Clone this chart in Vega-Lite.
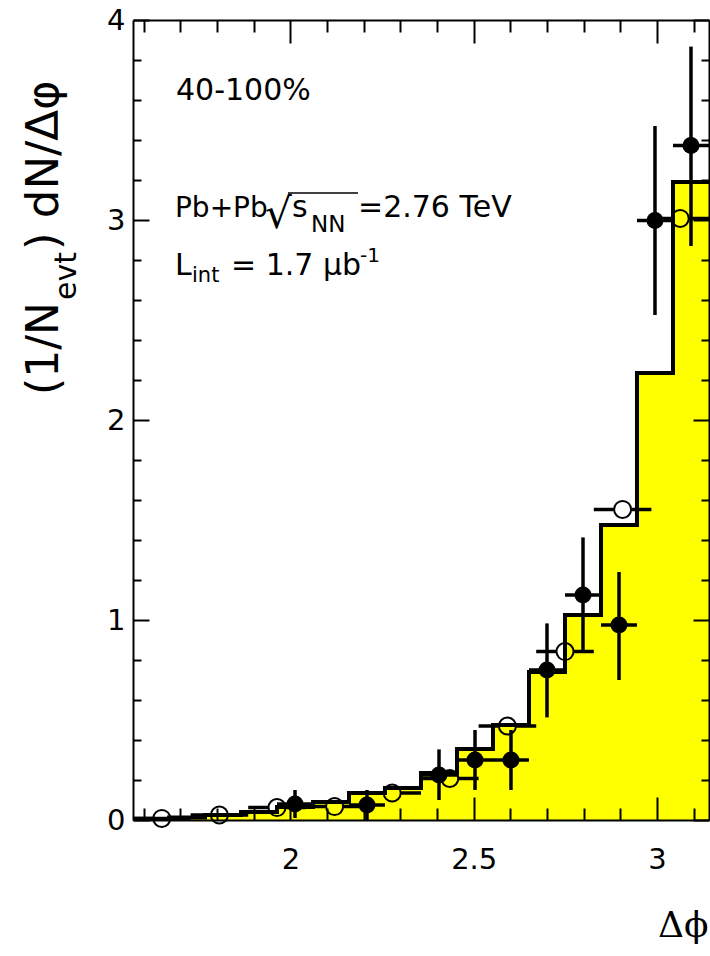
{
  "$schema": "https://vega.github.io/schema/vega-lite/v6.json",
  "width": 576,
  "height": 800,
  "autosize": {"type": "none"},
  "padding": {"left": 133, "top": 20, "right": 1, "bottom": 136},
  "background": "white",
  "config": {"view": {"stroke": null}, "font": "DejaVu Sans"},
  "datasets": {
    "bins": [
      {"lo": 1.5708, "hi": 1.6690, "n": 0.006},
      {"lo": 1.6690, "hi": 1.7671, "n": 0.012},
      {"lo": 1.7671, "hi": 1.8653, "n": 0.025},
      {"lo": 1.8653, "hi": 1.9635, "n": 0.04},
      {"lo": 1.9635, "hi": 2.0617, "n": 0.065},
      {"lo": 2.0617, "hi": 2.1598, "n": 0.09},
      {"lo": 2.1598, "hi": 2.2580, "n": 0.135},
      {"lo": 2.2580, "hi": 2.3562, "n": 0.16},
      {"lo": 2.3562, "hi": 2.4544, "n": 0.235},
      {"lo": 2.4544, "hi": 2.5525, "n": 0.355},
      {"lo": 2.5525, "hi": 2.6507, "n": 0.475},
      {"lo": 2.6507, "hi": 2.7489, "n": 0.74},
      {"lo": 2.7489, "hi": 2.8471, "n": 1.025},
      {"lo": 2.8471, "hi": 2.9452, "n": 1.475},
      {"lo": 2.9452, "hi": 3.0434, "n": 2.235},
      {"lo": 3.0434, "hi": 3.1416, "n": 3.19}
    ],
    "filled": [
      {"x": 2.0126, "lo": 1.9635, "hi": 2.0617, "y": 0.08, "ylo": 0.01, "yhi": 0.15},
      {"x": 2.2089, "lo": 2.1598, "hi": 2.2580, "y": 0.075, "ylo": 0.0, "yhi": 0.15},
      {"x": 2.4053, "lo": 2.3562, "hi": 2.4544, "y": 0.225, "ylo": 0.10, "yhi": 0.353},
      {"x": 2.5035, "lo": 2.4544, "hi": 2.5525, "y": 0.30, "ylo": 0.15, "yhi": 0.45},
      {"x": 2.6016, "lo": 2.5525, "hi": 2.6507, "y": 0.30, "ylo": 0.15, "yhi": 0.45},
      {"x": 2.6998, "lo": 2.6507, "hi": 2.7489, "y": 0.75, "ylo": 0.513, "yhi": 0.983},
      {"x": 2.7980, "lo": 2.7489, "hi": 2.8471, "y": 1.125, "ylo": 0.842, "yhi": 1.413},
      {"x": 2.8962, "lo": 2.8471, "hi": 2.9452, "y": 0.975, "ylo": 0.70, "yhi": 1.24},
      {"x": 2.9943, "lo": 2.9452, "hi": 3.0434, "y": 2.997, "ylo": 2.525, "yhi": 3.47},
      {"x": 3.0925, "lo": 3.0434, "hi": 3.1416, "y": 3.372, "ylo": 2.87, "yhi": 3.867}
    ],
    "open": [
      {"x": 1.6493, "lo": 1.5708, "hi": 1.7279, "y": 0.008},
      {"x": 1.8064, "lo": 1.7279, "hi": 1.8850, "y": 0.025},
      {"x": 1.9635, "lo": 1.8850, "hi": 2.0420, "y": 0.062},
      {"x": 2.1206, "lo": 2.0420, "hi": 2.1991, "y": 0.067},
      {"x": 2.2777, "lo": 2.1991, "hi": 2.3562, "y": 0.135},
      {"x": 2.4347, "lo": 2.3562, "hi": 2.5133, "y": 0.208},
      {"x": 2.5918, "lo": 2.5133, "hi": 2.6704, "y": 0.47},
      {"x": 2.7489, "lo": 2.6704, "hi": 2.8274, "y": 0.842},
      {"x": 2.9060, "lo": 2.8274, "hi": 2.9845, "y": 1.553},
      {"x": 3.0631, "lo": 2.9845, "hi": 3.1416, "y": 3.008}
    ]
  },
  "resolve": {"axis": {"x": "independent", "y": "independent"}},
  "layer": [
    {
      "data": {"name": "bins"},
      "mark": {"type": "rect", "fill": "#ffff00", "stroke": null},
      "encoding": {
        "x": {
          "field": "lo", "type": "quantitative",
          "scale": {"domain": [1.5708, 3.1416], "nice": false, "zero": false},
          "axis": {
            "orient": "bottom", "zindex": 1,
            "values": [1.6, 1.7, 1.8, 1.9, 2, 2.1, 2.2, 2.3, 2.4, 2.5, 2.6, 2.7, 2.8, 2.9, 3, 3.1],
            "format": "~g",
            "labelExpr": "abs(datum.value * 2 - round(datum.value * 2)) < 0.001 ? datum.label : ''",
            "tickSize": {"condition": {"test": "abs(datum.value * 2 - round(datum.value * 2)) < 0.001", "value": -23}, "value": -12},
            "tickWidth": 2, "tickColor": "black",
            "domainColor": "black", "domainWidth": 2,
            "labelFont": "DejaVu Sans", "labelFontSize": 29, "labelColor": "black",
            "labelPadding": 48, "labelFlush": false,
            "grid": false,
            "title": "Δϕ",
            "titleFont": "DejaVu Serif", "titleFontSize": 36, "titleFontWeight": "normal",
            "titleColor": "black", "titleAlign": "right", "titleBaseline": "alphabetic",
            "titleX": 575, "titleY": 116
          }
        },
        "x2": {"field": "hi"},
        "y": {
          "field": "n", "type": "quantitative",
          "scale": {"domain": [0, 4], "nice": false},
          "axis": {
            "orient": "left", "zindex": 1,
            "values": [0, 0.2, 0.4, 0.6, 0.8, 1, 1.2, 1.4, 1.6, 1.8, 2, 2.2, 2.4, 2.6, 2.8, 3, 3.2, 3.4, 3.6, 3.8, 4],
            "format": "~g",
            "labelExpr": "abs(datum.value - round(datum.value)) < 0.001 ? datum.label : ''",
            "tickSize": {"condition": {"test": "abs(datum.value - round(datum.value)) < 0.001", "value": -16}, "value": -8},
            "tickWidth": 2, "tickColor": "black",
            "domainColor": "black", "domainWidth": 2,
            "labelFont": "DejaVu Sans", "labelFontSize": 29, "labelColor": "black",
            "labelPadding": 24, "labelFlush": false,
            "grid": false, "title": null
          }
        },
        "y2": {"datum": 0}
      }
    },
    {
      "data": {"name": "bins"},
      "transform": [{"fold": ["lo", "hi"], "as": ["key", "edge"]}],
      "mark": {"type": "line", "stroke": "black", "strokeWidth": 4, "strokeJoin": "miter", "strokeCap": "butt"},
      "encoding": {
        "x": {
          "field": "edge", "type": "quantitative",
          "axis": {
            "orient": "top", "zindex": 1,
            "values": [1.6, 1.7, 1.8, 1.9, 2, 2.1, 2.2, 2.3, 2.4, 2.5, 2.6, 2.7, 2.8, 2.9, 3, 3.1],
            "labels": false,
            "tickSize": {"condition": {"test": "abs(datum.value * 2 - round(datum.value * 2)) < 0.001", "value": -23}, "value": -12},
            "tickWidth": 2, "tickColor": "black",
            "domainColor": "black", "domainWidth": 2,
            "grid": false, "title": null
          }
        },
        "y": {
          "field": "n", "type": "quantitative",
          "axis": {
            "orient": "right", "zindex": 1,
            "values": [0, 0.2, 0.4, 0.6, 0.8, 1, 1.2, 1.4, 1.6, 1.8, 2, 2.2, 2.4, 2.6, 2.8, 3, 3.2, 3.4, 3.6, 3.8, 4],
            "labels": false,
            "tickSize": {"condition": {"test": "abs(datum.value - round(datum.value)) < 0.001", "value": -16}, "value": -8},
            "tickWidth": 2, "tickColor": "black",
            "domainColor": "black", "domainWidth": 2,
            "grid": false, "title": null
          }
        },
        "order": [{"field": "edge", "type": "quantitative"}, {"field": "key", "type": "nominal"}]
      }
    },
    {
      "data": {"name": "open"},
      "mark": {"type": "rule", "stroke": "black", "strokeWidth": 3.5, "strokeDash": [20, 17.6, 40]},
      "encoding": {
        "x": {"field": "lo", "type": "quantitative", "axis": null},
        "x2": {"field": "hi"},
        "y": {"field": "y", "type": "quantitative", "axis": null}
      }
    },
    {
      "data": {"name": "open"},
      "mark": {"type": "point", "shape": "circle", "filled": false, "stroke": "black", "strokeWidth": 2, "size": 290, "opacity": 1},
      "encoding": {
        "x": {"field": "x", "type": "quantitative", "axis": null},
        "y": {"field": "y", "type": "quantitative", "axis": null}
      }
    },
    {
      "data": {"name": "filled"},
      "mark": {"type": "rule", "stroke": "black", "strokeWidth": 3.5},
      "encoding": {
        "x": {"field": "x", "type": "quantitative", "axis": null},
        "y": {"field": "ylo", "type": "quantitative", "axis": null},
        "y2": {"field": "yhi"}
      }
    },
    {
      "data": {"name": "filled"},
      "mark": {"type": "rule", "stroke": "black", "strokeWidth": 3.5},
      "encoding": {
        "x": {"field": "lo", "type": "quantitative", "axis": null},
        "x2": {"field": "hi"},
        "y": {"field": "y", "type": "quantitative", "axis": null}
      }
    },
    {
      "data": {"name": "filled"},
      "mark": {"type": "point", "shape": "circle", "filled": true, "fill": "black", "stroke": null, "size": 290, "opacity": 1},
      "encoding": {
        "x": {"field": "x", "type": "quantitative", "axis": null},
        "y": {"field": "y", "type": "quantitative", "axis": null}
      }
    },
    {
      "data": {"values": [{}]},
      "layer": [
        {
          "mark": {"type": "text", "text": "40-100%", "font": "DejaVu Sans", "fontSize": 30, "align": "left", "baseline": "alphabetic", "color": "black"},
          "encoding": {"x": {"datum": 1.6881, "type": "quantitative", "axis": null}, "y": {"datum": 3.6, "type": "quantitative", "axis": null}}
        },
        {
          "mark": {"type": "text", "text": "Pb+Pb", "font": "DejaVu Sans", "fontSize": 28, "align": "left", "baseline": "alphabetic", "color": "black"},
          "encoding": {"x": {"datum": 1.6853, "type": "quantitative", "axis": null}, "y": {"datum": 3.015, "type": "quantitative", "axis": null}}
        },
        {
          "mark": {"type": "text", "text": "√", "font": "DejaVu Sans", "fontSize": 42, "align": "left", "baseline": "alphabetic", "color": "black"},
          "encoding": {"x": {"datum": 1.9308, "type": "quantitative", "axis": null}, "y": {"datum": 2.96, "type": "quantitative", "axis": null}}
        },
        {
          "mark": {"type": "rule", "stroke": "black", "strokeWidth": 1.5},
          "encoding": {"x": {"datum": 1.9935, "type": "quantitative", "axis": null}, "x2": {"datum": 2.1844}, "y": {"datum": 3.135, "type": "quantitative", "axis": null}}
        },
        {
          "mark": {"type": "text", "text": "s", "font": "DejaVu Sans", "fontSize": 30, "align": "left", "baseline": "alphabetic", "color": "black"},
          "encoding": {"x": {"datum": 2.0044, "type": "quantitative", "axis": null}, "y": {"datum": 3.015, "type": "quantitative", "axis": null}}
        },
        {
          "mark": {"type": "text", "text": "NN", "font": "DejaVu Sans", "fontSize": 23, "align": "left", "baseline": "alphabetic", "color": "black"},
          "encoding": {"x": {"datum": 2.0562, "type": "quantitative", "axis": null}, "y": {"datum": 2.94, "type": "quantitative", "axis": null}}
        },
        {
          "mark": {"type": "text", "text": "=2.76 TeV", "font": "DejaVu Sans", "fontSize": 30, "align": "left", "baseline": "alphabetic", "color": "black"},
          "encoding": {"x": {"datum": 2.1844, "type": "quantitative", "axis": null}, "y": {"datum": 3.015, "type": "quantitative", "axis": null}}
        },
        {
          "mark": {"type": "text", "text": "L", "font": "DejaVu Sans", "fontSize": 30, "align": "left", "baseline": "alphabetic", "color": "black"},
          "encoding": {"x": {"datum": 1.6853, "type": "quantitative", "axis": null}, "y": {"datum": 2.725, "type": "quantitative", "axis": null}}
        },
        {
          "mark": {"type": "text", "text": "int", "font": "DejaVu Sans", "fontSize": 21, "align": "left", "baseline": "alphabetic", "color": "black"},
          "encoding": {"x": {"datum": 1.7317, "type": "quantitative", "axis": null}, "y": {"datum": 2.69, "type": "quantitative", "axis": null}}
        },
        {
          "mark": {"type": "text", "text": "= 1.7 μb", "font": "DejaVu Sans", "fontSize": 30, "align": "left", "baseline": "alphabetic", "color": "black"},
          "encoding": {"x": {"datum": 1.8381, "type": "quantitative", "axis": null}, "y": {"datum": 2.725, "type": "quantitative", "axis": null}}
        },
        {
          "mark": {"type": "text", "text": "-1", "font": "DejaVu Sans", "fontSize": 20, "align": "left", "baseline": "alphabetic", "color": "black"},
          "encoding": {"x": {"datum": 2.1899, "type": "quantitative", "axis": null}, "y": {"datum": 2.79, "type": "quantitative", "axis": null}}
        },
        {
          "mark": {"type": "text", "text": "(1/N", "font": "DejaVu Sans", "fontSize": 44, "angle": 270, "align": "left", "baseline": "alphabetic", "color": "black"},
          "encoding": {"x": {"datum": 1.3663, "type": "quantitative", "axis": null}, "y": {"datum": 2.125, "type": "quantitative", "axis": null}}
        },
        {
          "mark": {"type": "text", "text": "evt", "font": "DejaVu Sans", "fontSize": 30, "angle": 270, "align": "left", "baseline": "alphabetic", "color": "black"},
          "encoding": {"x": {"datum": 1.4154, "type": "quantitative", "axis": null}, "y": {"datum": 2.6, "type": "quantitative", "axis": null}}
        },
        {
          "mark": {"type": "text", "text": ") dN/Δφ", "font": "DejaVu Sans", "fontSize": 45, "angle": 270, "align": "left", "baseline": "alphabetic", "color": "black"},
          "encoding": {"x": {"datum": 1.3663, "type": "quantitative", "axis": null}, "y": {"datum": 2.85, "type": "quantitative", "axis": null}}
        }
      ]
    }
  ]
}
